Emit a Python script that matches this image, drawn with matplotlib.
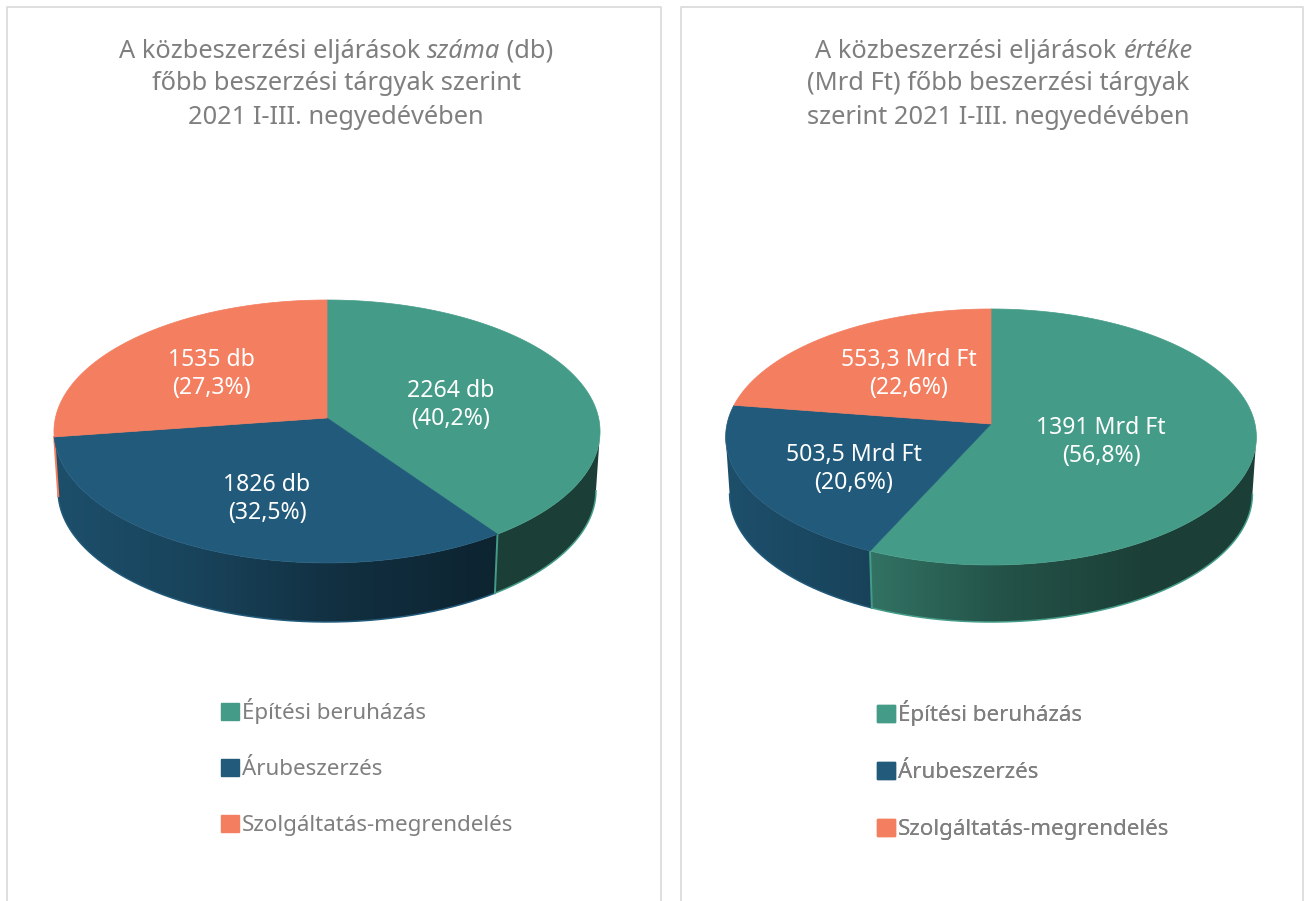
import matplotlib
matplotlib.use('Agg')
import matplotlib.pyplot as plt
from matplotlib.patches import Patch, Polygon
import numpy as np

categories = ['Építési beruházás', 'Árubeszerzés', 'Szolgáltatás-megrendelés']
darab = [2264, 1826, 1535]
darab_labels = ['2264 db\n(40,2%)', '1826 db\n(32,5%)', '1535 db\n(27,3%)']
ertek = [1391, 503.5, 553.3]
ertek_labels = ['1391 Mrd Ft\n(56,8%)', '503,5 Mrd Ft\n(20,6%)', '553,3 Mrd Ft\n(22,6%)']

colors = ['#449C88', '#215A7A', '#F47E60']
gray = '#7F7F7F'
font = 'Noto Sans'

fig = plt.figure(figsize=(13.04, 9.01), dpi=100)
ax = fig.add_axes([0, 0, 1, 1])
ax.axis('off')


def project(ang, cx, cy, rx, a, k, drop=0, shrink=1.0):
    # angle measured clockwise from the top, circle seen in perspective
    u = np.sin(ang)
    v = np.cos(ang)
    s = 1 / (1 + k * v)
    return cx + rx * shrink * u * s, cy - a * v * s + drop


def pie3d(values, cx, cy, rx, a, k, depth):
    shade_t = [0, .27, .52, .8, 1]
    shade_f = [.88, .74, .53, .40, .40]
    edges = np.cumsum([0] + list(values)) / sum(values) * 2 * np.pi
    seam_colors = {1: colors[0], 2: colors[2]}
    # side wall, only the part in front of the widest points
    for i in range(len(colors)):
        angs = np.linspace(edges[i], edges[i + 1], 600)
        angs = angs[np.cos(angs) <= -k]
        if len(angs) < 2:
            continue
        xt, yt = project(angs, cx, cy, rx, a, k)
        xb, yb = project(angs, cx, cy, rx, a, k, depth, .985)
        outline = Polygon(np.c_[np.r_[xt, xb[::-1]], np.r_[yt, yb[::-1]]], transform=ax.transData)
        t = np.linspace(0, 1, 256)
        base = np.array(matplotlib.colors.to_rgb(colors[i]))
        grad = np.interp(t, shade_t, shade_f)[None, :, None] * base
        im = ax.imshow(grad, extent=(cx - rx - 5, cx + rx + 5, cy + a + depth + 40, cy - a - 40),
                       aspect='auto', interpolation='bilinear', zorder=2)
        im.set_clip_path(outline)
        # lighter rim on the bottom edge
        ax.plot(xb, yb, color=colors[i], lw=1.1, zorder=3)
    # seams between the slices
    for i in range(1, len(colors)):
        if np.cos(edges[i]) < 0:
            xs0, ys0 = project(edges[i], cx, cy, rx, a, k)
            xs1, ys1 = project(edges[i], cx, cy, rx, a, k, depth, .985)
            ax.plot([xs0, xs1], [ys0, ys1], color=seam_colors[i], lw=1.4, zorder=3)
    # top face
    for i, col in enumerate(colors):
        angs = np.linspace(edges[i], edges[i + 1], 300)
        xs, ys = project(angs, cx, cy, rx, a, k)
        ax.fill(np.r_[cx, xs], np.r_[cy, ys], color=col, lw=.5, zorder=4)


def title_line(parts, cx, y):
    # parts: (text, style) runs, centred together on cx
    r = fig.canvas.get_renderer()
    widths = []
    for s, st in parts:
        t = ax.text(0, 0, s.replace(' ', '\u00a0'), fontsize=18.3, family=font, style=st)
        widths.append(t.get_window_extent(r).width)
        t.remove()
    x = cx - sum(widths) / 2
    for (s, st), w in zip(parts, widths):
        ax.text(x, y, s.replace(' ', '\u00a0'), fontsize=18.3, family=font, style=st, color=gray,
                ha='left', va='center')
        x += w


def panel(x0, x1):
    ax.plot([x0, x0, x1, x1], [901, 7, 7, 901], color='#D9D9D9', lw=1.2, zorder=1)


def legend(x, y, spacing):
    handles = [Patch(facecolor=c, edgecolor=c, label=n) for c, n in zip(colors, categories)]
    leg = ax.legend(handles=handles, loc='upper left', bbox_to_anchor=(x, y),
                    bbox_transform=ax.transData, frameon=False,
                    prop={'family': font, 'size': 16.1}, labelcolor=gray,
                    handlelength=.8, handleheight=.8, handletextpad=.12,
                    labelspacing=spacing, borderpad=0, borderaxespad=0)
    ax.add_artist(leg)


pie3d(darab, 327, 418, 271.6, 130.1, .1025, 59)
pie3d(ertek, 991, 424, 264, 126.7, .1015, 57)

ax.set_xlim(0, 1304)
ax.set_ylim(901, 0)

panel(7, 661)
panel(681, 1303)

title_line([('A közbeszerzési eljárások ', 'normal'), ('száma', 'italic'), (' (db)', 'normal')], 336, 51)
title_line([('főbb beszerzési tárgyak szerint', 'normal')], 336, 84)
title_line([('2021 I-III. negyedévében', 'normal')], 336, 117)
title_line([('A közbeszerzési eljárások ', 'normal'), ('értéke', 'italic')], 1004, 51)
title_line([('(Mrd Ft) főbb beszerzési tárgyak', 'normal')], 998, 84)
title_line([('szerint 2021 I-III. negyedévében', 'normal')], 998, 117)

label_pos = [(451, 405), (267, 499), (211, 374)]
for s, (x, y) in zip(darab_labels, label_pos):
    ax.text(x, y, s, color='white', fontsize=16.6, family=font, ha='center', va='center',
            linespacing=1.23, zorder=6)
label_pos = [(1101, 442), (854, 469), (909, 374)]
for s, (x, y) in zip(ertek_labels, label_pos):
    ax.text(x, y, s, color='white', fontsize=16.6, family=font, ha='center', va='center',
            linespacing=1.23, zorder=6)

legend(221, 698, 1.55)
legend(877, 700, 1.6)

fig.savefig('out.png', dpi=100)
